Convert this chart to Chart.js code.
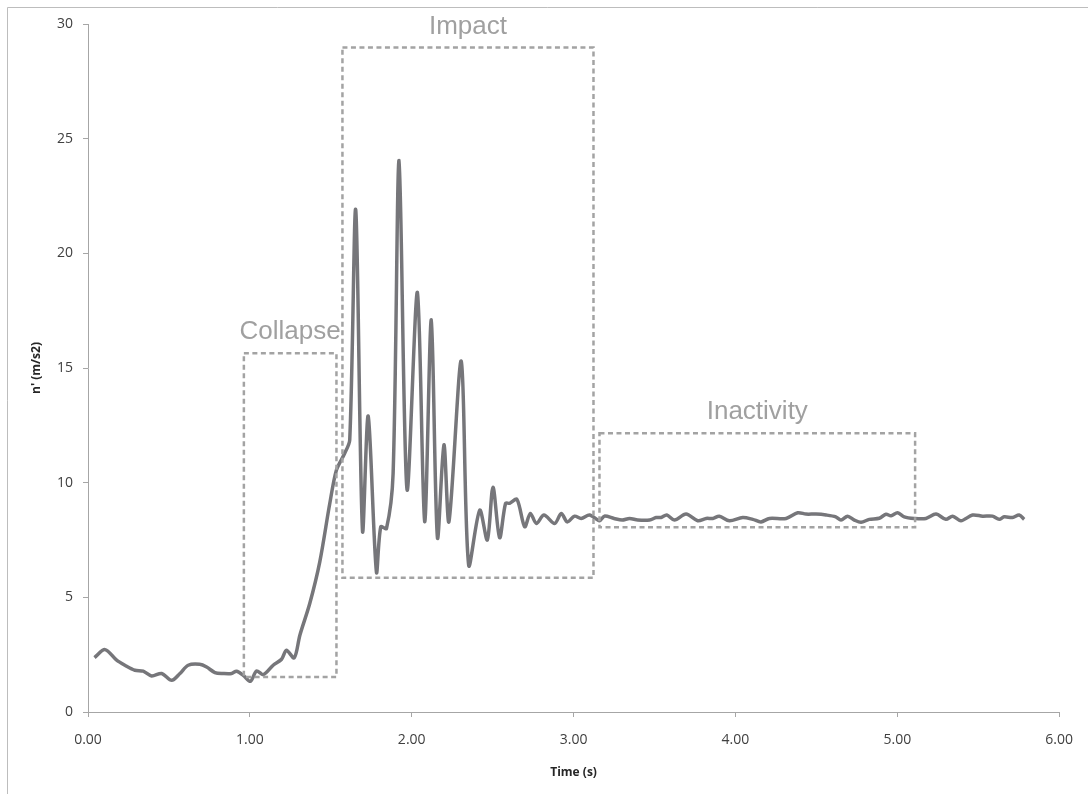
<!DOCTYPE html>
<html>
<head>
<meta charset="utf-8">
<script src="https://cdn.jsdelivr.net/npm/chart.js@4.4.1/dist/chart.umd.min.js"></script>
<style>
  html, body { margin: 0; padding: 0; background: #fff; }
  #wrap { width: 1088px; height: 794px; }
</style>
</head>
<body>
<div id="wrap"><canvas id="myChart"></canvas></div>
<script>
// time (s) and n' (m/s2)
const times = [
  0.04, 0.105, 0.177, 0.228, 0.29, 0.341, 0.393, 0.455, 0.517, 0.568,
  0.619, 0.69, 0.733, 0.784, 0.835, 0.887, 0.918, 0.959, 1.004, 1.041,
  1.083, 1.144, 1.196, 1.226, 1.274, 1.309, 1.37, 1.432, 1.494, 1.535,
  1.586, 1.617, 1.654, 1.696, 1.731, 1.782, 1.809, 1.844, 1.885, 1.922,
  1.971, 2.035, 2.08, 2.121, 2.159, 2.199, 2.23, 2.306, 2.352, 2.42,
  2.467, 2.502, 2.543, 2.58, 2.605, 2.65, 2.698, 2.733, 2.77, 2.817,
  2.883, 2.924, 2.961, 3.006, 3.047, 3.099, 3.16, 3.19, 3.25, 3.30,
  3.346, 3.397, 3.47, 3.51, 3.54, 3.576, 3.623, 3.695, 3.767, 3.819,
  3.86, 3.90, 3.963, 4.045, 4.107, 4.158, 4.21, 4.313, 4.385, 4.436,
  4.498, 4.56, 4.62, 4.652, 4.693, 4.735, 4.776, 4.827, 4.889, 4.93,
  4.961, 5.002, 5.043, 5.105, 5.177, 5.239, 5.30, 5.342, 5.393, 5.465,
  5.527, 5.588, 5.63, 5.66, 5.712, 5.753, 5.784
];
const accel = [
  2.37, 2.72, 2.26, 2.04, 1.82, 1.78, 1.57, 1.68, 1.38, 1.68,
  2.04, 2.08, 1.96, 1.72, 1.68, 1.68, 1.78, 1.60, 1.34, 1.79,
  1.63, 2.04, 2.30, 2.69, 2.36, 3.35, 4.73, 6.55, 9.1, 10.55,
  11.28, 11.86, 21.9, 7.9, 12.9, 6.1, 8.08, 8.0, 10.4, 24.05,
  9.7, 18.3, 8.3, 17.1, 7.6, 11.65, 8.3, 15.3, 6.4, 8.8,
  7.5, 9.8, 7.6, 9.1, 9.1, 9.27, 8.08, 8.66, 8.22, 8.59,
  8.22, 8.66, 8.29, 8.54, 8.44, 8.59, 8.34, 8.54, 8.44, 8.37,
  8.44, 8.37, 8.37, 8.48, 8.48, 8.59, 8.37, 8.63, 8.34, 8.44,
  8.44, 8.54, 8.34, 8.48, 8.40, 8.29, 8.44, 8.44, 8.69, 8.63,
  8.63, 8.59, 8.51, 8.37, 8.54, 8.37, 8.27, 8.40, 8.45, 8.62,
  8.56, 8.69, 8.51, 8.44, 8.44, 8.63, 8.40, 8.54, 8.34, 8.59,
  8.54, 8.54, 8.40, 8.51, 8.48, 8.59, 8.40
];

// phase boxes: [xMin, xMax, yMin, yMax] in axis units
const phaseNames = ['Collapse', 'Impact', 'Inactivity'];
const phaseBoxes = [
  [0.963, 1.535, 1.53, 15.64],
  [1.572, 3.123, 5.85, 28.97],
  [3.16, 5.11, 8.06, 12.15]
];

const yTicks = [0, 5, 10, 15, 20, 25, 30];

const points = times.map((t, i) => ({ x: t, y: accel[i] }));

const phasePlugin = {
  id: 'phases',
  afterDatasetsDraw(chart) {
    const ctx = chart.ctx;
    const xs = chart.scales.x;
    const ys = chart.scales.y;
    ctx.save();
    ctx.strokeStyle = '#a3a3a3';
    ctx.lineWidth = 2.5;
    ctx.setLineDash([5, 3.5]);
    phaseBoxes.forEach((b, i) => {
      const x1 = xs.getPixelForValue(b[0]);
      const x2 = xs.getPixelForValue(b[1]);
      const y1 = ys.getPixelForValue(b[3]);
      const y2 = ys.getPixelForValue(b[2]);
      ctx.strokeRect(x1, y1, x2 - x1, y2 - y1);
      ctx.fillStyle = '#a0a0a0';
      ctx.font = '26px "Liberation Sans", Arial, sans-serif';
      ctx.textAlign = 'center';
      ctx.textBaseline = 'alphabetic';
      ctx.fillText(phaseNames[i], (x1 + x2) / 2, y1 - 14);
    });
    ctx.restore();
  },
  beforeDraw(chart) {
    const ctx = chart.ctx;
    ctx.save();
    ctx.fillStyle = '#fff';
    ctx.fillRect(0, 0, chart.width, chart.height);
    ctx.strokeStyle = '#bdbdbd';
    ctx.lineWidth = 1;
    ctx.beginPath();
    ctx.moveTo(7.5, chart.height);
    ctx.lineTo(7.5, 7.5);
    ctx.lineTo(chart.width, 7.5);
    ctx.stroke();
    ctx.restore();
  }
};

const config = {
  type: 'scatter',
  data: {
    datasets: [{
      label: "n'",
      data: points,
      showLine: true,
      borderColor: 'rgb(118, 118, 122)',
      borderWidth: 3.5,
      pointRadius: 0,
      tension: 0.3,
      fill: false
    }]
  },
  options: {
    responsive: true,
    maintainAspectRatio: false,
    animation: false,
    layout: { padding: { left: 0, top: 24, right: 28, bottom: 0 } },
    plugins: {
      legend: { display: false },
      tooltip: { enabled: false }
    },
    scales: {
      x: {
        type: 'linear',
        min: 0,
        max: 6,
        afterFit: (s) => { s.height = 82; },
        border: { color: '#a6a6a6', width: 1 },
        grid: { drawOnChartArea: false, tickLength: 5, color: '#a6a6a6' },
        ticks: {
          stepSize: 1,
          padding: 15,
          color: '#404040',
          font: { family: '"Open Sans", sans-serif', size: 14 },
          callback: (v) => v.toFixed(2)
        },
        title: {
          display: true,
          text: 'Time (s)',
          color: '#262626',
          font: { family: '"Open Sans", sans-serif', size: 12, weight: 'bold' },
          padding: { top: 14, bottom: 14 }
        }
      },
      y: {
        min: 0,
        max: 30,
        afterFit: (s) => { s.width = 88; },
        afterBuildTicks: (s) => { s.ticks = yTicks.map(v => ({ value: v })); },
        border: { color: '#a6a6a6', width: 1 },
        grid: { drawOnChartArea: false, tickLength: 5, color: '#a6a6a6' },
        ticks: {
          padding: 10,
          color: '#404040',
          font: { family: '"Open Sans", sans-serif', size: 14 }
        },
        title: {
          display: true,
          text: "n' (m/s2)",
          color: '#262626',
          font: { family: '"Open Sans", sans-serif', size: 12, weight: 'bold' },
          padding: { top: 29, bottom: 29 }
        }
      }
    }
  },
  plugins: [phasePlugin]
};

new Chart(document.getElementById('myChart'), config);
</script>
</body>
</html>
